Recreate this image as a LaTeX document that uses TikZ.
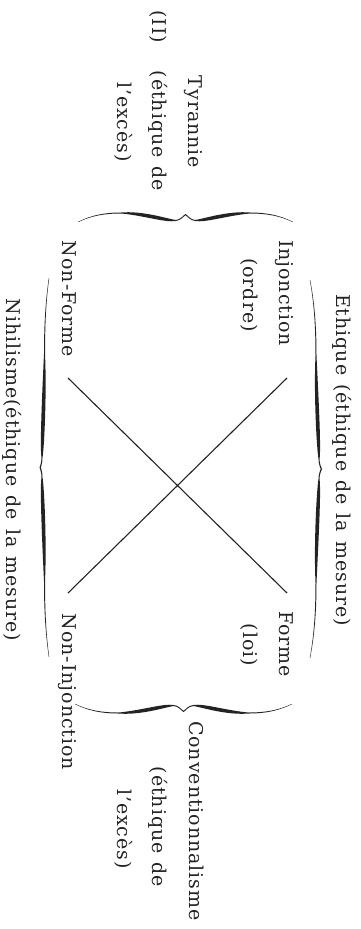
\documentclass[tikz,border=0pt]{standalone}
\usepackage{fontspec}
\setmainfont{DejaVu Serif}[LetterSpace=5, WordSpace=1.3]
\definecolor{ink}{RGB}{35,35,35}
\tikzset{
  lbl/.style={rotate=-90, font=\fontsize{19}{22}\selectfont, text height=14.25pt, text depth=4.75pt, inner sep=0pt, text=ink},
  xline/.style={line width=1.1pt, draw=ink},
}
\newcommand\curlybrace[5]{%
\begin{scope}[#1]
\fill[ink]
 (0,0.2) .. controls ({0.06*#2},{0.7*#3+0.3}) and ({0.12*#2},{#3+0.5}) .. ({0.2*#2},{#3+0.5})
 .. controls ({0.3*#2},{#3+2.3}) and ({0.5*#2-20},{#4+2.3}) .. ({0.5*#2-10},{#4+0.5})
 .. controls ({0.5*#2-5},{#4+0.5}) and ({0.5*#2-1.5},{#5-0.5}) .. ({0.5*#2},{#5})
 .. controls ({0.5*#2+1.5},{#5-0.5}) and ({0.5*#2+5},{#4+0.5}) .. ({0.5*#2+10},{#4+0.5})
 .. controls ({0.5*#2+20},{#4+2.3}) and ({0.7*#2},{#3+2.3}) .. ({0.8*#2},{#3+0.5})
 .. controls ({0.88*#2},{#3+0.5}) and ({0.94*#2},{0.7*#3+0.3}) .. (#2,0.2)
 -- (#2,-0.2)
 .. controls ({0.94*#2},{0.7*#3-0.3}) and ({0.88*#2},{#3-0.5}) .. ({0.8*#2},{#3-0.5})
 .. controls ({0.7*#2},{#3-2.3}) and ({0.5*#2+20},{#4-2.3}) .. ({0.5*#2+10},{#4-0.5})
 .. controls ({0.5*#2+5},{#4-0.5}) and ({0.5*#2+1.5},{#5-1.8}) .. ({0.5*#2},{#5-1.3})
 .. controls ({0.5*#2-1.5},{#5-1.8}) and ({0.5*#2-5},{#4-0.5}) .. ({0.5*#2-10},{#4-0.5})
 .. controls ({0.5*#2-20},{#4-2.3}) and ({0.3*#2},{#3-2.3}) .. ({0.2*#2},{#3-0.5})
 .. controls ({0.12*#2},{#3-0.5}) and ({0.06*#2},{0.7*#3-0.3}) .. (0,-0.2) -- cycle;
\end{scope}}
\begin{document}
\begin{tikzpicture}[x=1pt,y=1pt]
\useasboundingbox (0,0) rectangle (361,-929);
% texts
\node[lbl] (II) at (157,-27) {(II)};
\node[lbl] (tyr) at (193,-122) {Tyrannie};
\node[lbl] (tyr2) at (157,-131) {(éthique de};
\node[lbl] (tyr3) at (122,-122) {l'excès)};
\node[lbl] (inj) at (284,-293) {Injonction};
\node[lbl] (ord) at (248,-295) {(ordre)};
\node[lbl] (nf) at (67,-299) {Non-Forme};
\node[lbl] (eth) at (341,-460) {Ethique (éthique de la mesure)};
\node[lbl] (nih) at (11,-470) {Nihilisme(éthique de la mesure)};
\node[lbl] (forme) at (284,-644) {Forme};
\node[lbl] (loi) at (248,-645) {(loi)};
\node[lbl] (ninj) at (67,-692) {Non-Injonction};
\node[lbl] (conv) at (194,-821) {Conventionnalisme};
\node[lbl] (conv2) at (157,-827) {(éthique de};
\node[lbl] (conv3) at (122,-829) {l'excès)};
% cross
\coordinate (a1) at (287,-378);
\coordinate (a2) at (68,-593);
\coordinate (b1) at (68,-378);
\coordinate (b2) at (287,-593);
\draw[xline] (a1) -- (a2);
\draw[xline] (b1) -- (b2);
% braces
\curlybrace{shift={(78,-222)}}{215}{9}{1.5}{8}
\curlybrace{shift={(75,-704)}, x={(1pt,0pt)}, y={(0pt,-1pt)}}{217}{9}{1.5}{8}
\curlybrace{shift={(310,-280)}, x={(0pt,-1pt)}, y={(1pt,0pt)}}{378}{6}{9}{12}
\curlybrace{shift={(49,-278)}, x={(0pt,-1pt)}, y={(-1pt,0pt)}}{379}{4.5}{7}{9.5}
\end{tikzpicture}
\end{document}
